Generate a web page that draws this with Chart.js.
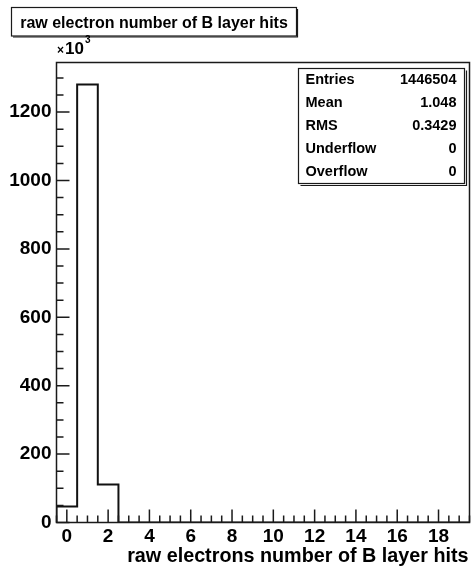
<!DOCTYPE html>
<html>
<head>
<meta charset="utf-8">
<script src="https://cdn.jsdelivr.net/npm/chart.js@4.4.1/dist/chart.umd.min.js"></script>
<style>
  html, body { margin: 0; padding: 0; background: #ffffff; }
  canvas { display: block; }
</style>
</head>
<body>
<canvas id="c" width="471" height="568"></canvas>
<script>
// Histogram contents: bin centres and counts (in units of 10^3 entries)
const binCenters = [0, 1, 2, 3, 4, 5, 6, 7, 8, 9, 10, 11, 12, 13, 14, 15, 16, 17, 18, 19];
const counts     = [47, 1281, 111, 0, 0, 0, 0, 0, 0, 0, 0, 0, 0, 0, 0, 0, 0, 0, 0, 0];

// Axis labelling
const xTickLabels = [0, 2, 4, 6, 8, 10, 12, 14, 16, 18];
const yTickLabels = [0, 200, 400, 600, 800, 1000, 1200];

// Statistics box
const statNames  = ['Entries', 'Mean', 'RMS', 'Underflow', 'Overflow'];
const statValues = ['1446504', '1.048', '0.3429', '0', '0'];

const histTitle  = 'raw electron number of B layer hits';
const xAxisTitle = 'raw electrons number of B layer hits';

const FONT = "'Liberation Sans', Arial, Helvetica, sans-serif";
const INK = '#1a1a1a';

// Outline of the histogram: each bin contributes its left and right edge at its height
const halfWidth = 0.5;
const outline = [{ x: binCenters[0] - halfWidth, y: 0 }];
binCenters.forEach((c, i) => {
  outline.push({ x: c - halfWidth, y: counts[i] });
  outline.push({ x: c + halfWidth, y: counts[i] });
});
outline.push({ x: binCenters[binCenters.length - 1] + halfWidth, y: 0 });

const xMin = binCenters[0] - halfWidth;
const xMax = binCenters[binCenters.length - 1] + halfWidth;
const yMax = Math.max(...counts) * 1.05;

// Frame, inward tick marks, title box, exponent label and statistics box
const decorations = {
  id: 'decorations',
  afterDraw(chart) {
    const ctx = chart.ctx;
    const { left, right, top, bottom } = chart.chartArea;
    const xs = chart.scales.x, ys = chart.scales.y;
    ctx.save();

    // tick marks pointing into the frame
    ctx.strokeStyle = INK;
    ctx.lineWidth = 1.5;
    ctx.beginPath();
    for (let v = xMin; v <= xMax + 1e-9; v += 0.5) {
      const px = xs.getPixelForValue(v);
      const major = xTickLabels.includes(Math.round(v * 2) / 2);
      ctx.moveTo(px, bottom);
      ctx.lineTo(px, bottom - (major ? 13 : 7));
    }
    for (let v = 0; v <= yMax + 1e-9; v += 50) {
      const py = ys.getPixelForValue(v);
      const major = yTickLabels.includes(v);
      ctx.moveTo(left, py);
      ctx.lineTo(left + (major ? 13 : 7), py);
    }
    ctx.stroke();

    // frame
    ctx.lineWidth = 1.5;
    ctx.strokeRect(left, top, right - left, bottom - top);

    // title box
    const bx = 11.5, by = 7.5, bh = 28.5, bw = 285;
    ctx.fillStyle = '#ffffff';
    ctx.fillRect(bx, by, bw, bh);
    ctx.lineWidth = 1.2;
    ctx.strokeRect(bx, by, bw, bh);
    ctx.beginPath();
    ctx.moveTo(bx + 1.5, by + bh + 1);
    ctx.lineTo(bx + bw + 1, by + bh + 1);
    ctx.lineTo(bx + bw + 1, by + 1.5);
    ctx.stroke();
    ctx.fillStyle = '#000000';
    ctx.font = 'bold 16px ' + FONT;
    ctx.textBaseline = 'alphabetic';
    ctx.textAlign = 'center';
    ctx.fillText(histTitle, bx + bw / 2, 27.5);

    // exponent label above the y axis
    ctx.textAlign = 'left';
    ctx.font = 'bold 12px ' + FONT;
    ctx.fillText('\u00d7', 57, 54);
    ctx.font = 'bold 17px ' + FONT;
    ctx.fillText('10', 65, 54);
    ctx.font = 'bold 10px ' + FONT;
    ctx.fillText('3', 85, 43);

    // statistics box
    const sx = 298.5, sy = 68.5, sw = 166, rowH = 23, sh = rowH * statNames.length;
    ctx.fillStyle = '#ffffff';
    ctx.fillRect(sx, sy, sw, sh);
    ctx.strokeStyle = INK;
    ctx.lineWidth = 1.2;
    ctx.strokeRect(sx, sy, sw, sh);
    ctx.beginPath();
    ctx.moveTo(sx + 2, sy + sh + 2);
    ctx.lineTo(sx + sw + 2, sy + sh + 2);
    ctx.lineTo(sx + sw + 2, sy + 2);
    ctx.stroke();
    ctx.fillStyle = '#000000';
    ctx.font = 'bold 14.5px ' + FONT;
    ctx.textBaseline = 'middle';
    statNames.forEach((name, i) => {
      const cy = sy + rowH * i + rowH / 2;
      ctx.textAlign = 'left';
      ctx.fillText(name, sx + 7, cy);
      ctx.textAlign = 'right';
      ctx.fillText(statValues[i], sx + sw - 8, cy);
    });

    // x axis title, right-aligned to the end of the axis
    ctx.font = 'bold 19.75px ' + FONT;
    ctx.textAlign = 'right';
    ctx.textBaseline = 'alphabetic';
    ctx.fillText(xAxisTitle, right - 1, 562);

    ctx.restore();
  }
};

new Chart(document.getElementById('c'), {
  type: 'line',
  data: {
    datasets: [{
      data: outline,
      borderColor: '#111111',
      borderWidth: 2,
      pointRadius: 0,
      fill: false,
      tension: 0
    }]
  },
  options: {
    responsive: false,
    animation: false,
    events: [],
    layout: { padding: { top: 62.5, right: 1.5, left: 0, bottom: 0 } },
    plugins: { legend: { display: false }, tooltip: { enabled: false }, title: { display: false } },
    scales: {
      x: {
        type: 'linear',
        min: xMin,
        max: xMax,
        grid: { display: false, drawTicks: false },
        border: { display: false },
        afterBuildTicks: s => { s.ticks = xTickLabels.map(v => ({ value: v })); },
        afterFit: s => { s.height = 45.5; },
        ticks: {
          padding: 3,
          maxRotation: 0,
          autoSkip: false,
          color: '#000000',
          font: { family: FONT, size: 19, weight: 'bold' },
          callback: v => String(v)
        }
      },
      y: {
        type: 'linear',
        min: 0,
        max: yMax,
        grid: { display: false, drawTicks: false },
        border: { display: false },
        afterBuildTicks: s => { s.ticks = yTickLabels.map(v => ({ value: v })); },
        afterFit: s => { s.width = 56.5; },
        ticks: {
          padding: 5,
          autoSkip: false,
          color: '#000000',
          font: { family: FONT, size: 19, weight: 'bold' },
          callback: v => String(v)
        }
      }
    }
  },
  plugins: [decorations]
});
</script>
</body>
</html>
